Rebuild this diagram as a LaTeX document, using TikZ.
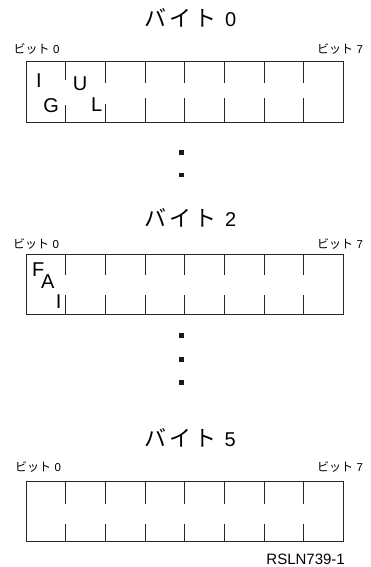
\documentclass[tikz,border=0pt]{standalone}
\usepackage{fontspec}
\setmainfont{Liberation Sans}
\newfontfamily\jpfont{Noto Sans CJK JP}[LetterSpace=14]
\newfontfamily\jpsmall{Noto Sans CJK JP}
\usetikzlibrary{calc}
\newcommand\bytetitle[1]{{\jpfont\fontsize{22}{22}\selectfont バイト}\hspace{8pt}{\fontsize{20}{20}\selectfont #1}}
\newcommand\bitlabel[1]{{\jpsmall\fontsize{12}{12}\selectfont ビット}\hspace{3.5pt}{\fontsize{11.5}{11.5}\selectfont #1}}
\begin{document}
\begin{tikzpicture}[x=1pt,y=-1pt,
  ln/.style={line width=0.8pt, draw=black!85},
  regbox/.style={ln, rectangle, inner sep=0pt, minimum width=317.3pt, anchor=north west},
  ttl/.style={anchor=base, inner sep=0pt},
  bitl/.style={inner sep=0pt},
  flag/.style={inner sep=0pt, anchor=center, font=\fontsize{20}{20}\selectfont},
  dot/.style={fill=black!90, minimum size=4.7pt, inner sep=0pt, rectangle},
  code/.style={inner sep=0pt, anchor=base east, font=\fontsize{15}{15}\selectfont}]
\useasboundingbox (0,0) rectangle (371,567);

% ---- byte 0 ----
\node[ttl] (t0) at (190.5,26.5) {\bytetitle{0}};
\node[bitl, anchor=base west] (b0l) at (13.3,54) {\bitlabel{0}};
\node[bitl, anchor=base east] (b0r) at (363.3,54) {\bitlabel{7}};
\node[regbox, minimum height=61pt] (r0) at (26,61) {};
\foreach \k/\u/\l in {1/19/18,2/22/19,3/22/25,4/22/25,5/22/25,6/22/25,7/22/25}{
  \draw[ln] ($(r0.north west)+(\k*39.66,0)$) -- ++(0,\u);
  \draw[ln] ($(r0.south west)+(\k*39.66,0)$) -- ++(0,-\l);
}
\node[flag] (fI) at (39,80.8) {I};
\node[flag] (fG) at (51.2,105.3) {G};
\node[flag] (fU) at (80,83.8) {U};
\node[flag] (fL) at (96.7,105) {L};

% ---- dots ----
\node[dot] (d1) at (181.7,152.3) {};
\node[dot] (d2) at (181.7,175) {};

% ---- byte 2 ----
\node[ttl] (t2) at (190.5,226.7) {\bytetitle{2}};
\node[bitl, anchor=base west] (b2l) at (13,248) {\bitlabel{0}};
\node[bitl, anchor=base east] (b2r) at (363.3,248) {\bitlabel{7}};
\node[regbox, minimum height=60.5pt] (r2) at (26,253.5) {};
\foreach \k in {1,...,7}{
  \draw[ln] ($(r2.north west)+(\k*39.66,0)$) -- ++(0,21.5);
  \draw[ln] ($(r2.south west)+(\k*39.66,0)$) -- ++(0,-20);
}
\node[flag] (fF) at (38.3,269.2) {F};
\node[flag] (fA) at (47.7,282) {A};
\node[flag] (fI2) at (58.7,301.7) {I};

% ---- dots ----
\node[dot] (d3) at (181.7,335.7) {};
\node[dot] (d4) at (181.7,359.3) {};
\node[dot] (d5) at (181.7,382.3) {};

% ---- byte 5 ----
\node[ttl] (t5) at (190,446.7) {\bytetitle{5}};
\node[bitl, anchor=base west] (b5l) at (15,471.7) {\bitlabel{0}};
\node[bitl, anchor=base east] (b5r) at (363.3,471.7) {\bitlabel{7}};
\node[regbox, minimum height=60pt] (r5) at (26,480.5) {};
\foreach \k in {1,...,7}{
  \draw[ln] ($(r5.north west)+(\k*39.66,0)$) -- ++(0,23);
  \draw[ln] ($(r5.south west)+(\k*39.66,0)$) -- ++(0,-17);
}

\node[code] (id) at (345,564) {RSLN739-1};
\end{tikzpicture}
\end{document}
